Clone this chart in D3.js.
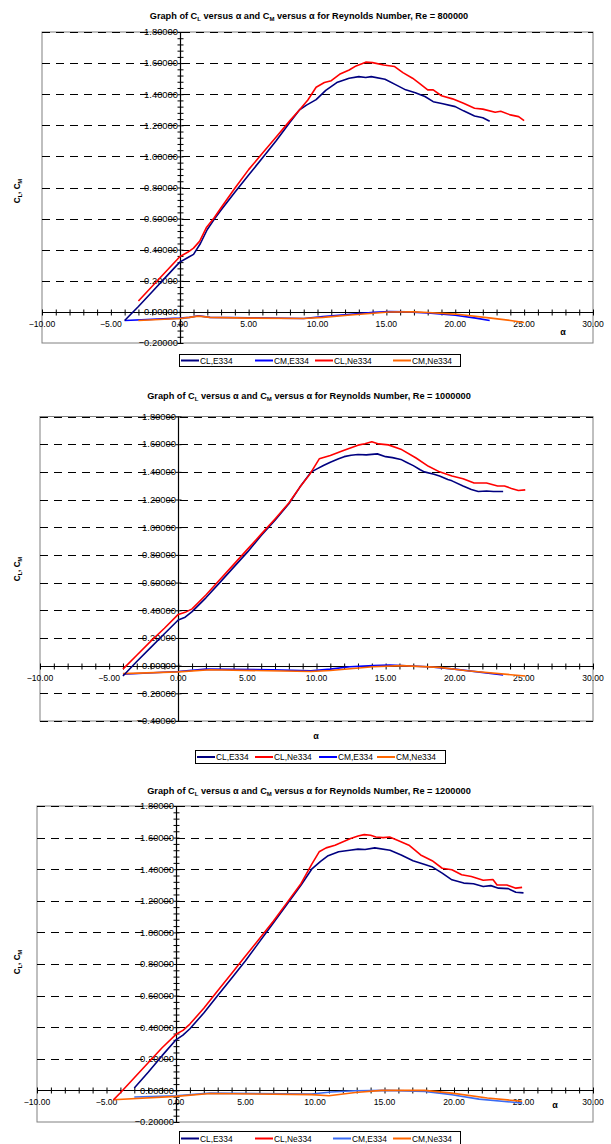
<!DOCTYPE html>
<html><head><meta charset="utf-8">
<script src="https://cdn.jsdelivr.net/npm/d3@7"></script>
<style>body{margin:0;background:#fff} svg{display:block} text{font-family:"Liberation Sans",Arial,sans-serif}</style>
</head><body><svg id="c" width="611" height="1144"></svg>
<script>
// ---------- DATA ----------
const reynolds = ["800000", "1000000", "1200000"];
const xTickValues = [-10, -5, 0, 5, 10, 15, 20, 25, 30];
const yTicksShort = [-0.2, 0, 0.2, 0.4, 0.6, 0.8, 1.0, 1.2, 1.4, 1.6, 1.8];
const yTicksLong = [-0.4, -0.2, 0, 0.2, 0.4, 0.6, 0.8, 1.0, 1.2, 1.4, 1.6, 1.8];
const seriesNames = ["CL,E334", "CM,E334", "CL,Ne334", "CM,Ne334"];
const legendOrder800 = ["CL,E334", "CM,E334", "CL,Ne334", "CM,Ne334"];
const legendOrder1000 = ["CL,E334", "CL,Ne334", "CM,E334", "CM,Ne334"];
const legendOrder1200 = ["CL,E334", "CL,Ne334", "CM,E334", "CM,Ne334"];

// Re = 800000   [alpha, value]
const re800_CL_E334 = [[-4,-0.055],[-3,0.035],[-2,0.13],[-1,0.225],[0,0.32],[0.5,0.345],[1,0.37],[1.5,0.44],[2,0.53],[2.5,0.595],[3,0.655],[4,0.77],[5,0.88],[6,0.99],[7,1.10],[8,1.22],[8.7,1.30],[9.2,1.33],[9.9,1.365],[10.6,1.425],[11.4,1.475],[12.3,1.503],[13.0,1.513],[13.5,1.507],[13.9,1.513],[14.9,1.496],[15.7,1.46],[16.4,1.428],[17.1,1.41],[17.8,1.385],[18.4,1.352],[19.1,1.338],[20,1.32],[20.6,1.293],[21.4,1.26],[22,1.248],[22.5,1.226]];
const re800_CL_Ne334 = [[-3,0.07],[-2,0.165],[-1,0.26],[0,0.355],[0.6,0.385],[1.0,0.41],[1.45,0.455],[1.95,0.545],[2.5,0.605],[3,0.67],[4,0.795],[5,0.915],[6,1.02],[7,1.125],[8,1.23],[8.7,1.30],[9.3,1.363],[9.9,1.445],[10.5,1.475],[11,1.487],[11.6,1.528],[12.3,1.556],[12.8,1.582],[13.5,1.606],[14,1.603],[14.8,1.588],[15.6,1.578],[16.2,1.539],[16.9,1.503],[17.4,1.47],[18,1.428],[18.4,1.428],[19,1.39],[19.8,1.37],[20.6,1.342],[21.4,1.31],[22,1.304],[22.9,1.284],[23.3,1.29],[24,1.267],[24.6,1.256],[25,1.23]];
const re800_CM_E334 = [[-4,-0.055],[0,-0.04],[0.7,-0.035],[1.35,-0.025],[2.2,-0.035],[5,-0.038],[9,-0.042],[10.4,-0.03],[12.4,-0.015],[14.1,-0.002],[15.2,0.002],[16.5,0.0],[18,-0.007],[20,-0.022],[21.5,-0.04],[22.5,-0.055]];
const re800_CM_Ne334 = [[-3,-0.055],[0,-0.042],[0.7,-0.035],[1.35,-0.027],[2.2,-0.035],[5,-0.04],[9,-0.042],[10.4,-0.035],[12.4,-0.02],[15.2,-0.001],[17,0.0],[18,-0.004],[20,-0.014],[22.6,-0.04],[24,-0.055],[25,-0.068]];

// Re = 1000000
const re1000_CL_E334 = [[-4,-0.075],[-3,0.03],[-2,0.13],[-1,0.23],[0,0.33],[0.5,0.35],[1,0.39],[2,0.49],[3,0.6],[4,0.71],[5,0.82],[6,0.94],[7,1.05],[8,1.17],[8.8,1.29],[9.6,1.398],[10,1.42],[10.5,1.446],[11,1.47],[11.6,1.494],[12,1.51],[12.5,1.52],[13,1.525],[13.6,1.523],[14.4,1.53],[15,1.51],[15.5,1.503],[16.1,1.49],[16.5,1.47],[17,1.445],[17.5,1.415],[17.8,1.40],[18.5,1.383],[18.9,1.37],[19.5,1.345],[19.8,1.335],[20.6,1.298],[21.2,1.272],[21.7,1.258],[22.3,1.262],[22.8,1.258],[23.5,1.258]];
const re1000_CL_Ne334 = [[-4,-0.025],[-3,0.075],[-2,0.175],[-1,0.27],[0,0.37],[0.5,0.385],[1,0.41],[2,0.51],[3,0.62],[4,0.73],[5,0.84],[6,0.95],[7,1.06],[8,1.175],[8.8,1.29],[9.5,1.38],[10.2,1.494],[11,1.518],[11.9,1.552],[13,1.593],[13.5,1.603],[14,1.617],[14.5,1.602],[15.2,1.595],[16.1,1.564],[17.2,1.5],[18.1,1.44],[18.9,1.4],[19.8,1.37],[20.6,1.35],[21.4,1.32],[22.3,1.32],[23.1,1.298],[23.6,1.298],[24.1,1.28],[24.6,1.265],[25.1,1.27]];
const re1000_CM_E334 = [[-4,-0.0625],[0,-0.0425],[2,-0.025],[6.8,-0.03],[9.6,-0.0375],[11,-0.025],[12.4,-0.008],[14.1,0],[15.3,0.004],[18.1,-0.008],[20,-0.025],[23.5,-0.0675]];
const re1000_CM_Ne334 = [[-4,-0.0575],[0,-0.045],[2.3,-0.03],[9.6,-0.0425],[11,-0.035],[14.1,-0.008],[16.1,0],[18.9,-0.0125],[20.9,-0.0375],[25.1,-0.075]];

// Re = 1200000
const re1200_CL_E334 = [[-3,0.015],[-2,0.115],[-1,0.22],[0,0.32],[0.5,0.35],[1,0.39],[2,0.49],[3,0.6],[4,0.71],[5,0.82],[6,0.94],[7,1.06],[8,1.18],[9,1.30],[9.76,1.40],[10.4,1.45],[10.9,1.483],[11.7,1.51],[12.5,1.52],[13.1,1.527],[13.6,1.525],[14.3,1.535],[15.4,1.52],[16.2,1.49],[17.05,1.454],[17.9,1.43],[18.4,1.416],[19.15,1.375],[19.85,1.333],[20.7,1.312],[21.4,1.308],[22.1,1.29],[22.65,1.296],[23.2,1.28],[23.9,1.277],[24.45,1.254],[25,1.25]];
const re1200_CL_Ne334 = [[-4.5,-0.06],[-4,-0.015],[-3,0.08],[-2,0.175],[-1,0.27],[0,0.355],[0.5,0.38],[1,0.42],[2,0.52],[3,0.63],[4,0.74],[5,0.85],[6,0.96],[7,1.07],[8,1.19],[9,1.31],[9.76,1.43],[10.3,1.51],[10.8,1.535],[11.44,1.552],[12.56,1.594],[13.1,1.61],[13.54,1.619],[14.0,1.615],[14.38,1.604],[14.9,1.6],[15.37,1.604],[15.93,1.583],[16.76,1.552],[17.6,1.49],[18.43,1.454],[19.15,1.406],[19.85,1.396],[20.55,1.365],[21.25,1.354],[22.1,1.33],[22.8,1.335],[23.1,1.3],[23.8,1.3],[24.45,1.28],[24.9,1.285]];
const re1200_CM_E334 = [[-3,-0.042],[0,-0.034],[2.45,-0.017],[9.76,-0.023],[11.15,-0.01],[12.9,-0.002],[15.1,0],[17.9,-0.006],[19.85,-0.027],[21.8,-0.055],[24.9,-0.08]];
const re1200_CM_Ne334 = [[-4.5,-0.059],[0,-0.038],[2.45,-0.02],[9.76,-0.027],[11,-0.034],[12.9,-0.013],[14.8,0],[17.9,0],[19.85,-0.017],[22.4,-0.048],[24.9,-0.069]];

// ---------- LAYOUT / STYLE ----------
const charts = [
  {re: reynolds[0], data: {"CL,E334": re800_CL_E334, "CM,E334": re800_CM_E334, "CL,Ne334": re800_CL_Ne334, "CM,Ne334": re800_CM_Ne334},
   left: 42, right: 593, top: 32, bottom: 343, yTicks: yTicksShort, minorY: true, gridBottom: false,
   titleY: 18.5, yTitle: [20, 191], alpha: [563, 335], legendOrder: legendOrder800,
   legend: {x0: 179, x1: 460, y0: 354, y1: 366, items: [181, 255, 315, 393]}, cmColor: "#0000ff"},
  {re: reynolds[1], data: {"CL,E334": re1000_CL_E334, "CM,E334": re1000_CM_E334, "CL,Ne334": re1000_CL_Ne334, "CM,Ne334": re1000_CM_Ne334},
   left: 40, right: 593, top: 416.5, bottom: 721, yTicks: yTicksLong, minorY: false, gridBottom: true,
   titleY: 398.5, yTitle: [20, 569], alpha: [316, 739], legendOrder: legendOrder1000,
   legend: {x0: 195, x1: 445, y0: 750, y1: 763, items: [197, 255, 319, 377]}, cmColor: "#0000ff"},
  {re: reynolds[2], data: {"CL,E334": re1200_CL_E334, "CM,E334": re1200_CM_E334, "CL,Ne334": re1200_CL_Ne334, "CM,Ne334": re1200_CM_Ne334},
   left: 37, right: 593, top: 806, bottom: 1122, yTicks: yTicksShort, minorY: true, gridBottom: false,
   titleY: 793.5, yTitle: [20, 962], alpha: [555, 1108], legendOrder: legendOrder1200,
   legend: {x0: 179, x1: 460, y0: 1131, y1: 1145, items: [181, 255, 333, 393]}, cmColor: "#3a6cf4"}
];

const svg = d3.select("#c");

charts.forEach(ch => {
  const colors = {"CL,E334": "#000080", "CM,E334": ch.cmColor, "CL,Ne334": "#ff0000", "CM,Ne334": "#ff6600"};
  const x = d3.scaleLinear().domain([-10, 30]).range([ch.left, ch.right]);
  const yMin = d3.min(ch.yTicks), yMax = d3.max(ch.yTicks);
  const y = d3.scaleLinear().domain([yMin, yMax]).range([ch.bottom, ch.top]);
  const g = svg.append("g");

  // title
  const t = g.append("text").attr("x", 309).attr("y", ch.titleY).attr("text-anchor", "middle")
    .attr("font-size", 9.2).attr("font-weight", "bold");
  t.append("tspan").text("Graph of C");
  t.append("tspan").text("L").attr("font-size", 6).attr("dy", 2);
  t.append("tspan").text(" versus α and C").attr("dy", -2);
  t.append("tspan").text("M").attr("font-size", 6).attr("dy", 2);
  t.append("tspan").text(" versus α for Reynolds Number, Re = " + ch.re).attr("dy", -2);

  // plot border
  g.append("rect").attr("x", ch.left).attr("y", ch.top).attr("width", ch.right - ch.left).attr("height", ch.bottom - ch.top)
    .attr("fill", "none").attr("stroke", "#808080").attr("stroke-width", 1);

  // gridlines
  const gridVals = ch.yTicks.filter(v => Math.abs(v) > 1e-9 && (ch.gridBottom || v !== yMin));
  g.append("g").selectAll("line").data(gridVals).join("line")
    .attr("x1", ch.left).attr("x2", ch.right)
    .attr("y1", d => Math.round(y(d)) + 0.5).attr("y2", d => Math.round(y(d)) + 0.5)
    .attr("stroke", "#000").attr("stroke-width", 1).attr("stroke-dasharray", "8,6");

  // x axis (at y=0) with crossing ticks every 1 unit
  const y0 = Math.round(y(0)) + 0.5;
  const xAxis = d3.axisBottom(x).tickValues(d3.range(-10, 31, 1)).tickSize(3).tickFormat("");
  g.append("g").attr("transform", `translate(0,${y0 - 3})`).call(xAxis)
    .call(s => { s.select(".domain").remove(); s.selectAll(".tick line").attr("y2", 6).attr("stroke", "#000"); });
  g.append("line").attr("x1", ch.left).attr("x2", ch.right).attr("y1", y0).attr("y2", y0).attr("stroke", "#000").attr("stroke-width", 1.2);
  // x tick labels
  g.append("g").selectAll("text").data(xTickValues).join("text")
    .attr("x", d => x(d)).attr("y", y0 + 14.5).attr("text-anchor", "middle")
    .attr("font-size", 8.6).attr("fill", "#000").text(d => d3.format(".2f")(d));

  // y axis at x=0
  const x0 = Math.round(x(0)) + 0.5;
  const minorVals = ch.minorY ? d3.range(Math.round(yMin / 0.04), Math.round(yMax / 0.04) + 1).map(k => k * 0.04) : ch.yTicks;
  const yAxis = d3.axisLeft(y).tickValues(minorVals).tickSize(3).tickFormat("");
  g.append("g").attr("transform", `translate(${x0 + 3},0)`).call(yAxis)
    .call(s => { s.select(".domain").remove(); s.selectAll(".tick line").attr("x2", -6).attr("stroke", "#000"); });
  g.append("line").attr("x1", x0).attr("x2", x0).attr("y1", ch.top).attr("y2", ch.bottom).attr("stroke", "#000").attr("stroke-width", 1.2);
  // y tick labels
  g.append("g").selectAll("text").data(ch.yTicks).join("text")
    .attr("x", x0 - 2.5).attr("y", d => y(d) + 3.3).attr("text-anchor", "end")
    .attr("font-size", 9.4).attr("fill", "#000").text(d => d3.format(".5f")(d));

  // series lines
  const line = d3.line().x(d => x(d[0])).y(d => y(d[1]));
  ["CM,E334", "CM,Ne334", "CL,E334", "CL,Ne334"].forEach(name => {
    g.append("path").datum(ch.data[name]).attr("d", line).attr("fill", "none")
      .attr("stroke", colors[name]).attr("stroke-width", 1.6).attr("stroke-linejoin", "round");
  });

  // axis titles
  const yt = g.append("text").attr("transform", `translate(${ch.yTitle[0]},${ch.yTitle[1]}) rotate(-90)`)
    .attr("text-anchor", "middle").attr("font-size", 8.2).attr("font-weight", "bold");
  yt.append("tspan").text("C");
  yt.append("tspan").text("L").attr("font-size", 5.5).attr("dy", 2);
  yt.append("tspan").text(", C").attr("dy", -2);
  yt.append("tspan").text("M").attr("font-size", 5.5).attr("dy", 2);
  g.append("text").attr("x", ch.alpha[0]).attr("y", ch.alpha[1]).attr("text-anchor", "middle")
    .attr("font-size", 9).attr("font-weight", "bold").text("α");

  // legend
  const L = ch.legend;
  g.append("rect").attr("x", L.x0 + 0.5).attr("y", L.y0 + 0.5).attr("width", L.x1 - L.x0).attr("height", L.y1 - L.y0)
    .attr("fill", "#fff").attr("stroke", "#000").attr("stroke-width", 1);
  const ly = Math.min((L.y0 + L.y1) / 2 + 0.5, 1138.5);
  ch.legendOrder.forEach((name, i) => {
    const lx = L.items[i];
    g.append("line").attr("x1", lx).attr("x2", lx + 18).attr("y1", ly).attr("y2", ly)
      .attr("stroke", colors[name]).attr("stroke-width", 2);
    g.append("text").attr("x", lx + 19).attr("y", ly + 3).attr("font-size", 8.4).text(name);
  });
});
</script></body></html>
